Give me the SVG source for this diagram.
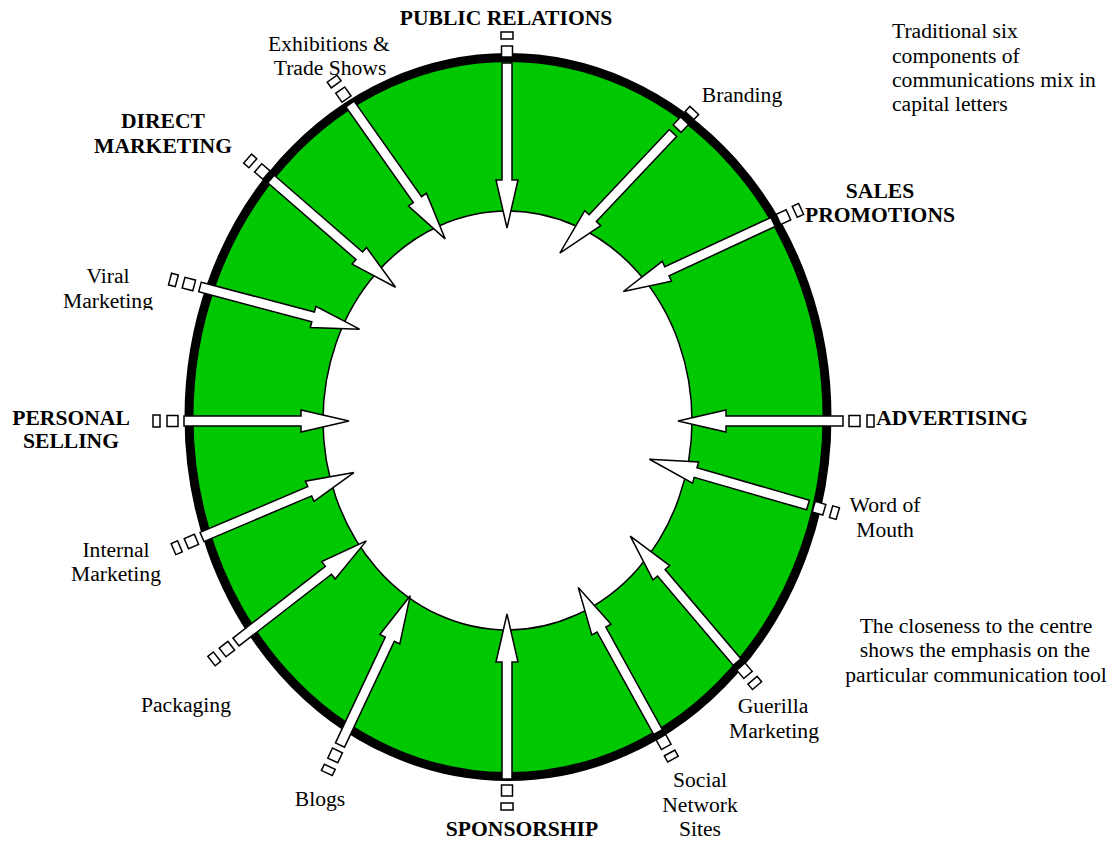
<svg xmlns="http://www.w3.org/2000/svg" xmlns:xlink="http://www.w3.org/1999/xlink" width="1117" height="841" viewBox="0 0 1117 841">
<style>
.t{font-family:"Liberation Serif","Times New Roman",serif;font-size:21.6px;fill:#000;text-anchor:middle}
.b{font-weight:bold}
.arr{fill:#fff;stroke:#000;stroke-width:1.5;stroke-linejoin:miter}
</style>
<defs>
<g id="arrow">
<rect class="arr" x="-31" y="-6" width="7" height="12"/>
<rect class="arr" x="-17" y="-5.5" width="11" height="11"/>
<polygon class="arr" points="0,-5 117,-5 117,-11 165,0 117,11 117,5 0,5"/>
</g>
<clipPath id="clipViral"><rect x="0" y="0" width="300" height="310"/></clipPath>
<clipPath id="clipSocial"><rect x="600" y="700" width="200" height="137"/></clipPath>
</defs>
<rect width="1117" height="841" fill="#fff"/>
<g id="ring">
<ellipse cx="508" cy="417" rx="319" ry="359.5" fill="#00c800" stroke="#000" stroke-width="9"/>
<ellipse cx="507.5" cy="420.5" rx="184.5" ry="209.5" fill="#fff" stroke="#000" stroke-width="1.5"/>
</g>
<g id="connectors">
<use xlink:href="#arrow" transform="translate(507,63) rotate(90)"/>
<use xlink:href="#arrow" transform="translate(350,104) rotate(54.8)"/>
<use xlink:href="#arrow" transform="translate(271,179) rotate(41)"/>
<use xlink:href="#arrow" transform="translate(200,287) rotate(14.8)"/>
<use xlink:href="#arrow" transform="translate(184,421) rotate(0)"/>
<use xlink:href="#arrow" transform="translate(843,421) rotate(180)"/>
<use xlink:href="#arrow" transform="translate(808,505) rotate(196.1)"/>
<use xlink:href="#arrow" transform="translate(737,662) rotate(229.7)"/>
<use xlink:href="#arrow" transform="translate(658,732) rotate(241.1)"/>
<use xlink:href="#arrow" transform="translate(507,779) rotate(270)"/>
<use xlink:href="#arrow" transform="translate(340,745) rotate(295.2)"/>
<use xlink:href="#arrow" transform="translate(236,642) rotate(322.2)"/>
<use xlink:href="#arrow" transform="translate(202,537) rotate(337)"/>
<use xlink:href="#arrow" transform="translate(673,133) rotate(133.3)"/>
<use xlink:href="#arrow" transform="translate(773,222) rotate(155.1)"/>
</g>
<g id="public-relations"><text class="t b" x="506" y="25">PUBLIC RELATIONS</text></g>
<g id="exhibitions"><text class="t" x="329" y="51">Exhibitions &amp;</text><text class="t" x="330" y="75">Trade Shows</text></g>
<g id="direct-marketing"><text class="t b" x="163" y="128">DIRECT</text><text class="t b" x="163" y="153">MARKETING</text></g>
<g id="viral-marketing" clip-path="url(#clipViral)"><text class="t" x="108" y="283">Viral</text><text class="t" x="108" y="308">Marketing</text></g>
<g id="personal-selling"><text class="t b" x="71" y="425">PERSONAL</text><text class="t b" x="71" y="448">SELLING</text></g>
<g id="internal-marketing"><text class="t" x="116" y="557">Internal</text><text class="t" x="116" y="581">Marketing</text></g>
<g id="packaging"><text class="t" x="186" y="712">Packaging</text></g>
<g id="blogs"><text class="t" x="320" y="806">Blogs</text></g>
<g id="sponsorship"><text class="t b" x="522" y="836">SPONSORSHIP</text></g>
<g id="social-network-sites" clip-path="url(#clipSocial)"><text class="t" x="700" y="787">Social</text><text class="t" x="700" y="812">Network</text><text class="t" x="700" y="836">Sites</text></g>
<g id="guerilla-marketing"><text class="t" x="773" y="713">Guerilla</text><text class="t" x="774" y="738">Marketing</text></g>
<g id="word-of-mouth"><text class="t" x="885" y="512">Word of</text><text class="t" x="885" y="537">Mouth</text></g>
<g id="advertising"><text class="t b" x="952" y="425">ADVERTISING</text></g>
<g id="sales-promotions"><text class="t b" x="880" y="198">SALES</text><text class="t b" x="880" y="222">PROMOTIONS</text></g>
<g id="branding"><text class="t" x="742" y="102">Branding</text></g>
<g id="note-traditional"><text class="t" x="892" y="38" style="text-anchor:start">Traditional six</text><text class="t" x="892" y="63" style="text-anchor:start">components of</text><text class="t" x="892" y="87" style="text-anchor:start">communications mix in</text><text class="t" x="892" y="111" style="text-anchor:start">capital letters</text></g>
<g id="note-closeness"><text class="t" x="976" y="633">The closeness to the centre</text><text class="t" x="975" y="657">shows the emphasis on the</text><text class="t" x="976" y="682">particular communication tool</text></g>
</svg>
